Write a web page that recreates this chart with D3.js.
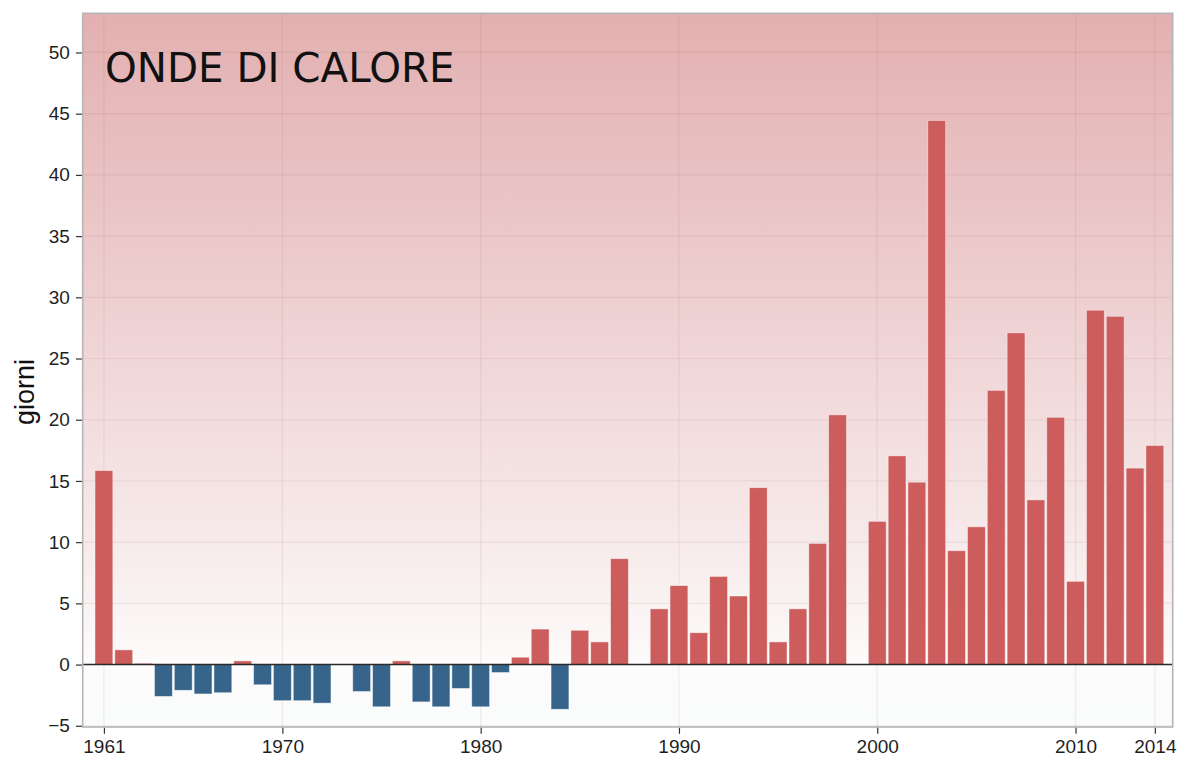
<!DOCTYPE html>
<html lang="it">
<head>
  <meta charset="UTF-8" />
  <title>Onde di calore</title>
  <style>
    body {
      margin: 0;
      background: #fff;
      overflow: hidden;
    }
    svg {
      display: block;
    }
    .axis text {
      font-family: "Liberation Sans", Arial, sans-serif;
      font-size: 19px;
      fill: #1f1f1f;
    }
    .axis line {
      stroke: #333;
      stroke-width: 1.2;
    }
  </style>
  <script src="https://cdn.jsdelivr.net/npm/d3@7"></script>
</head>
<body>
  <div id="chart"></div>

  <script>
    // anni e giorni di onde di calore (anomalia)
    const years = d3.range(1961, 2015);
    const giorni = [
      15.85, 1.2, 0.1, -2.6, -2.1, -2.4, -2.3, 0.3, -1.65, -2.95,   // 1961-1970
      -2.95, -3.15, null, -2.2, -3.45, 0.3, -3.05, -3.45, -1.95, -3.45, // 1971-1980
      -0.65, 0.6, 2.9, -3.65, 2.8, 1.85, 8.65, null, 4.55, 6.45,    // 1981-1990
      2.6, 7.2, 5.6, 14.45, 1.85, 4.55, 9.9, 20.4, null, 11.7,      // 1991-2000
      17.05, 14.9, 44.45, 9.3, 11.25, 22.4, 27.1, 13.45, 20.2, 6.8, // 2001-2010
      28.95, 28.45, 16.05, 17.9                                      // 2011-2014
    ];
    const xTicks = [1961, 1970, 1980, 1990, 2000, 2010, 2014];
    const yTicks = d3.range(-5, 51, 5);
    const title = 'ONDE DI CALORE';
    const yLabel = 'giorni';

    const width = 1179;
    const height = 757;
    const panel = { left: 82.7, right: 1172.7, top: 13.3, bottom: 727 };

    const data = years.map((y, i) => ({ year: y, value: giorni[i] }))
      .filter(d => d.value !== null);

    const svg = d3.select('#chart').append('svg')
      .attr('width', width)
      .attr('height', height);

    const x = d3.scaleLinear().domain([1959.93, 2014.9]).range([panel.left, panel.right]);
    const y = d3.scaleLinear().domain([-5.1, 53.2]).range([panel.bottom, panel.top]);

    // sfondo sfumato: rosa in alto, bianco a zero, azzurrino sotto
    const grad = svg.append('defs').append('linearGradient')
      .attr('id', 'bg')
      .attr('gradientUnits', 'userSpaceOnUse')
      .attr('x1', 0).attr('x2', 0)
      .attr('y1', panel.top).attr('y2', panel.bottom);

    const stops = [
      [53.2, 'rgb(227,176,177)'],
      [40, 'rgb(233,193,194)'],
      [25, 'rgb(240,214,215)'],
      [10, 'rgb(247,234,234)'],
      [0, 'rgb(253,251,251)'],
      [-5.1, 'rgb(249,251,252)']
    ];
    stops.forEach(([v, c]) => {
      grad.append('stop')
        .attr('offset', (y(v) - panel.top) / (panel.bottom - panel.top))
        .attr('stop-color', c);
    });

    svg.append('rect')
      .attr('x', panel.left)
      .attr('y', panel.top)
      .attr('width', panel.right - panel.left)
      .attr('height', panel.bottom - panel.top)
      .attr('fill', 'url(#bg)');

    // griglia
    const grid = svg.append('g').attr('stroke', 'rgba(120,80,80,0.09)').attr('stroke-width', 1.2);
    grid.selectAll('.h').data(yTicks).enter().append('line')
      .attr('x1', panel.left).attr('x2', panel.right)
      .attr('y1', d => y(d)).attr('y2', d => y(d));
    grid.selectAll('.v').data(xTicks).enter().append('line')
      .attr('y1', panel.top).attr('y2', panel.bottom)
      .attr('x1', d => x(d)).attr('x2', d => x(d));

    // barre
    const barW = x(1960.9) - x(1960);
    svg.append('g').selectAll('rect').data(data).enter().append('rect')
      .attr('x', d => x(d.year) - barW / 2)
      .attr('width', barW)
      .attr('y', d => y(Math.max(0, d.value)))
      .attr('height', d => Math.abs(y(d.value) - y(0)))
      .attr('fill', d => d.value >= 0 ? '#cd5c5c' : '#36648b')
      .attr('stroke', 'rgba(255,255,255,0.55)')
      .attr('stroke-width', 0.8);

    // linea dello zero
    svg.append('line')
      .attr('x1', panel.left).attr('x2', panel.right)
      .attr('y1', y(0)).attr('y2', y(0))
      .attr('stroke', '#2a2a2a')
      .attr('stroke-width', 1.6);

    // bordo pannello
    svg.append('rect')
      .attr('x', panel.left)
      .attr('y', panel.top)
      .attr('width', panel.right - panel.left)
      .attr('height', panel.bottom - panel.top)
      .attr('fill', 'none')
      .attr('stroke', '#b5b5b5')
      .attr('stroke-width', 1.6);

    // assi
    const yAxis = svg.append('g')
      .attr('class', 'axis')
      .attr('transform', `translate(${panel.left - 0.8},0)`)
      .call(d3.axisLeft(y).tickValues(yTicks).tickSize(6).tickPadding(6).tickSizeOuter(0));
    yAxis.select('.domain').remove();

    const xAxis = svg.append('g')
      .attr('class', 'axis')
      .attr('transform', `translate(0,${panel.bottom + 0.8})`)
      .call(d3.axisBottom(x).tickValues(xTicks).tickFormat(d3.format('d')).tickSize(6).tickPadding(6).tickSizeOuter(0));
    xAxis.select('.domain').remove();

    svg.append('text')
      .attr('transform', `translate(34,392) rotate(-90)`)
      .attr('text-anchor', 'middle')
      .attr('font-family', '"Liberation Sans", Arial, sans-serif')
      .attr('font-size', 27)
      .attr('fill', '#111')
      .text(yLabel);

    svg.append('text')
      .attr('x', 105)
      .attr('y', 81.7)
      .attr('font-family', '"DejaVu Sans", sans-serif')
      .attr('font-size', 40.4)
      .attr('fill', '#111')
      .text(title);
  </script>
</body>
</html>
